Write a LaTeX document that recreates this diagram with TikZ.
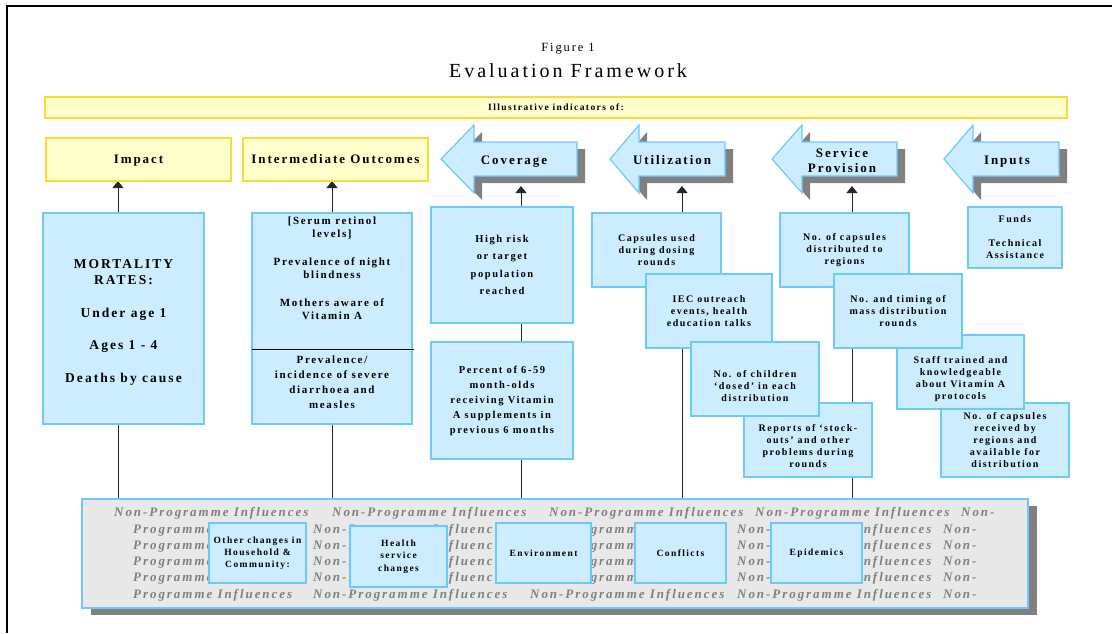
\documentclass[tikz,border=0pt]{standalone}
\usepackage{fontspec}
\setmainfont{Liberation Serif}
\newfontfamily\trk[LetterSpace=15]{Liberation Serif}
\usetikzlibrary{positioning, arrows.meta}

\definecolor{boxfill}{RGB}{204,236,255}
\definecolor{boxline}{RGB}{110,200,250}
\definecolor{hdfill}{RGB}{255,255,204}
\definecolor{hdline}{RGB}{255,214,60}
\definecolor{shadowgray}{RGB}{128,128,128}
\definecolor{npfill}{RGB}{232,232,232}
\definecolor{nptext}{RGB}{128,128,128}

\pgfdeclarelayer{bg}
\pgfsetlayers{bg,main}

\begin{document}
\begin{tikzpicture}[x=1pt, y=-1pt,
    box/.style={draw=boxline, fill=boxfill, line width=1.2pt, inner sep=0pt, outer sep=0pt,
        align=center, font=\trk\bfseries\fontsize{10}{12}\selectfont},
    boxtext/.style={align=center, inner sep=0pt},
    hdbox/.style={draw=hdline, fill=hdfill, line width=1.2pt, inner sep=0pt, outer sep=0pt,
        text height=8.6pt, text depth=0pt, font=\trk\bfseries\fontsize{13}{15}\selectfont},
    hdarrow/.style={draw=boxline, fill=boxfill, line width=1.2pt, line join=miter},
    hdshadow/.style={fill=shadowgray},
    hdtext/.style={align=center, inner sep=0pt, font=\trk\bfseries\fontsize{13}{15}\selectfont},
    link/.style={line width=1pt, black!85},
    up/.style={link, -{Triangle[length=7pt, width=11pt]}},
    inftext/.style={anchor=base west, inner sep=0pt, text=nptext,
        font=\trk\bfseries\itshape\fontsize{13}{15}\selectfont}
]
    \useasboundingbox (0,0) rectangle (1112,633);

    % Page frame
    \draw[line width=2pt] (7,633) -- (7,6) -- (1112,6);

    % Title
    \node[font=\trk\fontsize{12.5}{14}\selectfont] (fig) at (568,49) {Figure 1};
    \node[font=\trk\fontsize{20}{22}\selectfont] (title) at (568,71) {Evaluation Framework};

    % Banner
    \node[hdbox, minimum width=1022pt, minimum height=21pt, text height=6.4pt,
        font=\trk\bfseries\fontsize{9.5}{11}\selectfont] (banner) at (556,107.5) {Illustrative indicators of:};

    % Headers
    \node[hdbox, minimum width=185pt, minimum height=43pt] (hd-imp) at (138.5,159.5) {Impact};
    \node[hdbox, minimum width=185pt, minimum height=43pt] (hd-io) at (335.5,159.5) {Intermediate Outcomes};

    \foreach \t/\h/\r in {441/474/577, 610/639/725, 772/802/897, 944/973/1059} {
        \fill[hdshadow, shift={(8,7)}] (\t,159) -- (\h,125) -- (\h,142) -- (\r,142)
            -- (\r,176) -- (\h,176) -- (\h,193) -- cycle;
        \draw[hdarrow] (\t,159) -- (\h,125) -- (\h,142) -- (\r,142)
            -- (\r,176) -- (\h,176) -- (\h,193) -- cycle;
    }
    \node[hdtext, anchor=base] (cov) at (514,164) {Coverage};
    \node[hdtext, anchor=base] (util) at (672,164) {Utilization};
    \node[hdtext] (serv) at (842,160.5) {Service\\Provision};
    \node[hdtext, anchor=base] (inp) at (1007,164) {Inputs};

    \coordinate (imp-base) at (118,181);
    \coordinate (cov-base) at (521,186);
    \coordinate (util-base) at (682,186);
    \coordinate (serv-base) at (852,186);

    % Impact column
    \node[box, minimum width=161pt, minimum height=211pt] (mort) at (123.5,318.5) {};
    \node[boxtext, font=\trk\bfseries\fontsize{13.5}{16}\selectfont] (mort-t) at (123.5,322)
        {MORTALITY\\RATES:\\[17pt]Under age 1\\[16pt]Ages 1 - 4\\[17pt]Deaths by cause};

    % Intermediate outcomes column
    \node[box, minimum width=160pt, minimum height=211pt] (ind) at (332,318.5) {};
    \draw[black] (ind.west |- 0,349) -- ([xshift=2pt]ind.east |- 0,349);
    \node[boxtext, font=\trk\bfseries\fontsize{11}{13}\selectfont] (ind-a) at (332,268.5)
        {[Serum retinol\\levels]\\[15pt]Prevalence of night\\blindness\\[15pt]Mothers aware of\\Vitamin A};
    \node[boxtext, font=\trk\bfseries\fontsize{11}{15}\selectfont] (ind-b) at (332,382.5)
        {Prevalence/\\incidence of severe\\diarrhoea and\\measles};

    % Coverage column
    \node[box, minimum width=142pt, minimum height=116pt,
        font=\trk\bfseries\fontsize{10.5}{17.5}\selectfont] (cov1) at (502,265)
        {High risk\\or target\\population\\reached};
    \node[box, minimum width=142pt, minimum height=117pt,
        font=\trk\bfseries\fontsize{10.5}{15}\selectfont] (cov2) at (502,400.5)
        {Percent of 6-59\\month-olds\\receiving Vitamin\\A supplements in\\previous 6 months};

    % Utilization column
    \node[box, minimum width=129pt, minimum height=74pt] (util1) at (656.5,250)
        {Capsules used\\during dosing\\rounds};
    \node[box, minimum width=126pt, minimum height=74pt] (util2) at (709,311)
        {IEC outreach\\events, health\\education talks};
    \node[box, minimum width=128pt, minimum height=74pt] (util4) at (808,440) {};
    \node[boxtext, font=\trk\bfseries\fontsize{10}{12}\selectfont] (util4-t) at (808,446)
        {Reports of ‘stock-\\outs’ and other\\problems during\\rounds};
    \node[box, minimum width=128pt, minimum height=74pt] (util3) at (755,379) {};
    \node[boxtext, font=\trk\bfseries\fontsize{10}{12}\selectfont] (util3-t) at (755,386)
        {No. of children\\‘dosed’ in each\\distribution};

    % Service provision column
    \node[box, minimum width=129pt, minimum height=74pt] (serv1) at (844.5,250)
        {No. of capsules\\distributed to\\regions};
    \node[box, minimum width=128pt, minimum height=74pt] (serv4) at (1005,440)
        {No. of capsules\\received by\\regions and\\available for\\distribution};
    \node[box, minimum width=127pt, minimum height=74pt] (serv3) at (960.5,372) {};
    \node[boxtext, font=\trk\bfseries\fontsize{10}{12}\selectfont] (serv3-t) at (960.5,379)
        {Staff trained and\\knowledgeable\\about Vitamin A\\protocols};
    \node[box, minimum width=128pt, minimum height=74pt] (serv2) at (898,311)
        {No. and timing of\\mass distribution\\rounds};

    % Inputs column
    \node[box, minimum width=94pt, minimum height=61pt] (inp1) at (1015,237.5)
        {Funds\\[12pt]Technical\\Assistance};

    % Non-programme influences
    \fill[shadowgray] (91,506) rectangle (1037,615);
    \node[draw=boxline, fill=npfill, line width=1.2pt, inner sep=0pt, outer sep=0pt,
        minimum width=946pt, minimum height=109pt] (frame) at (555,553.5) {};
    \foreach \x in {114,332,549,755}
        \node[inftext] (np-\x) at (\x,516) {Non-Programme Influences};
    \node[inftext] (np-end) at (961,516) {Non-};
    \foreach \y in {533,549,565,581,598} {
        \node[inftext] (np-a-\y) at (133,\y) {Programme Influences};
        \foreach \x in {313,530,737}
            \node[inftext] (np-\x-\y) at (\x,\y) {Non-Programme Influences};
        \node[inftext] (np-e-\y) at (943,\y) {Non-};
    }

    \node[box, minimum width=97pt, minimum height=60pt, font=\trk\bfseries\fontsize{9.5}{12}\selectfont]
        (hh) at (257.5,553) {Other changes in\\Household \&\\Community:};
    \node[box, minimum width=97pt, minimum height=61pt, font=\trk\bfseries\fontsize{9.5}{12.5}\selectfont]
        (hs) at (398.5,556.5) {Health\\service\\changes};
    \node[box, minimum width=95pt, minimum height=60pt, font=\trk\bfseries\fontsize{9.5}{12}\selectfont]
        (env) at (543.5,553) {Environment};
    \node[box, minimum width=91pt, minimum height=60pt, font=\trk\bfseries\fontsize{9.5}{12}\selectfont]
        (conf) at (680.5,553) {Conflicts};
    \node[box, minimum width=91pt, minimum height=60pt, font=\trk\bfseries\fontsize{9.5}{12}\selectfont]
        (epi) at (816.5,553) {Epidemics};

    % Connectors
    \begin{pgfonlayer}{bg}
        \draw[up] (mort.north -| imp-base) -- (imp-base);
        \draw[link] (mort.south -| imp-base) -- (frame.north -| imp-base);
        \draw[up] (ind.north) -- (ind.north |- hd-io.south);
        \draw[link] (ind.south) -- (ind.south |- frame.north);
        \draw[up] (cov1.north -| cov-base) -- (cov-base);
        \draw[link] (cov1.south -| cov-base) -- (cov2.north -| cov-base);
        \draw[link] (cov2.south -| cov-base) -- (frame.north -| cov-base);
        \draw[up] (util1.north -| util-base) -- (util-base);
        \draw[link] (util2.south -| util-base) -- (frame.north -| util-base);
        \draw[up] (serv1.north -| serv-base) -- (serv-base);
        \draw[link] (serv2.south -| serv-base) -- (frame.north -| serv-base);
    \end{pgfonlayer}
\end{tikzpicture}
\end{document}
